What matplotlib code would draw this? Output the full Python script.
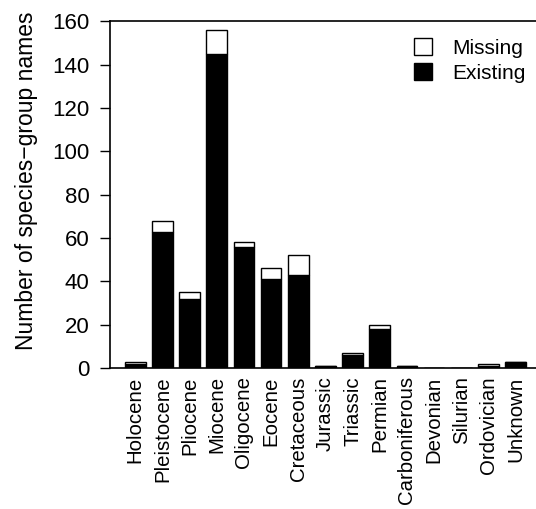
import numpy as np
import matplotlib
matplotlib.use("Agg")
import matplotlib.pyplot as plt
from matplotlib.patches import Patch

plt.rcParams['font.family'] = ['Liberation Sans', 'DejaVu Sans']

periods = ["Holocene", "Pleistocene", "Pliocene", "Miocene", "Oligocene",
           "Eocene", "Cretaceous", "Jurassic", "Triassic", "Permian",
           "Carboniferous", "Devonian", "Silurian", "Ordovician", "Unknown"]
existing = [2, 63, 32, 145, 56, 41, 43, 1, 6, 18, 1, 0, 0, 1, 3]
missing = [1, 5, 3, 11, 2, 5, 9, 0, 1, 2, 0, 0, 0, 1, 0]

fig = plt.figure(figsize=(5.36, 5.09), dpi=100)
ax = fig.add_axes([0.205, 0.277, 0.795, 0.681])

x = np.arange(len(periods))
ax.bar(x, existing, width=0.76, color="black", edgecolor="black", linewidth=1)
ax.bar(x, missing, width=0.76, bottom=existing, color="white",
       edgecolor="black", linewidth=1)

ax.set_xlim(-0.935, 14.75)
ax.set_ylim(0, 160)
ax.set_yticks(range(0, 161, 20))
ax.set_xticks(x)
ax.set_xticklabels(periods, rotation=90, fontsize=14.7)
ax.tick_params(axis="x", length=0, pad=6)
ax.tick_params(axis="y", labelsize=16, length=7.5, width=1, direction="out",
               pad=7)
ax.set_ylabel("Number of species\u2212group names", fontsize=16.5)
ax.yaxis.set_label_coords(-0.168, 0.539)

ax.spines["right"].set_visible(False)
for s in ["left", "top", "bottom"]:
    ax.spines[s].set_linewidth(1.2)

legend_elements = [
    Patch(facecolor="white", edgecolor="black", label="Missing"),
    Patch(facecolor="black", edgecolor="black", label="Existing"),
]
ax.legend(handles=legend_elements, loc="upper right", frameon=False,
          fontsize=15, bbox_to_anchor=(1.02, 1.005), handlelength=0.85,
          handleheight=0.85, handletextpad=1.0, labelspacing=0.25)

fig.savefig("out.png", dpi=100)
